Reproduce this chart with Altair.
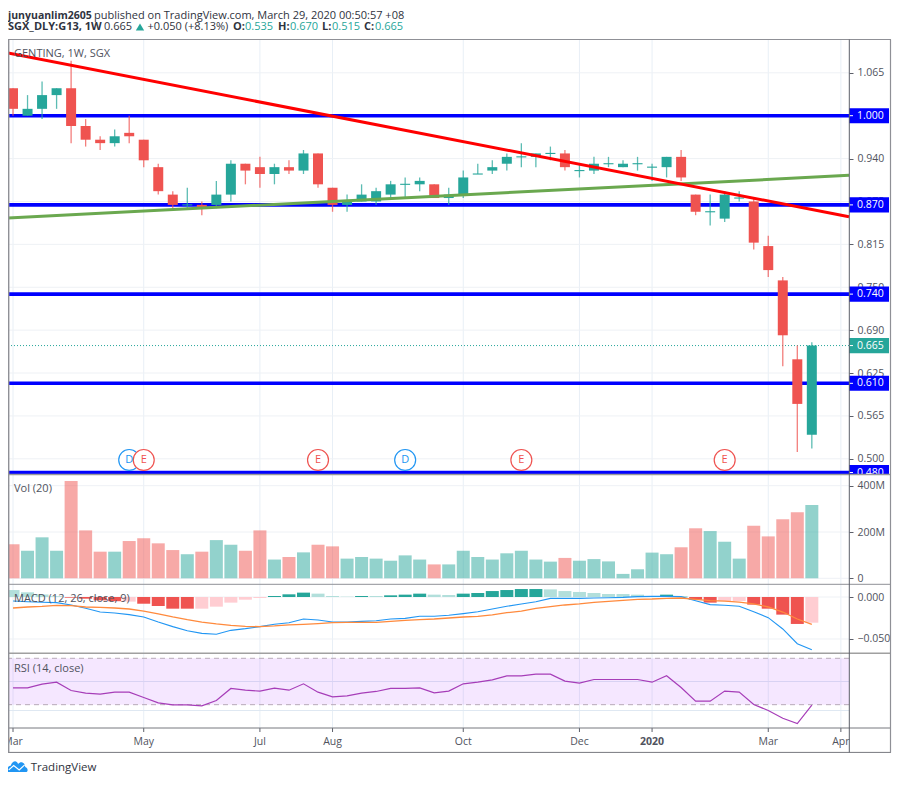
import altair as alt
import pandas as pd

# ---------- data ----------
dates = [d.strftime("%Y-%m-%d") for d in pd.date_range("2019-03-04", periods=56, freq="7D")]

open_ = [1.04,1.00,1.01,1.03,1.04,0.985,0.965,0.96,0.975,0.965,0.925,0.885,0.87,0.87,0.87,0.885,0.93,0.925,0.915,0.925,
         0.92,0.945,0.895,0.87,0.875,0.875,0.885,0.90,0.90,0.90,0.88,0.885,0.915,0.92,0.93,0.94,0.94,0.945,0.945,0.92,
         0.92,0.93,0.925,0.93,0.925,0.925,0.94,0.885,0.86,0.85,0.88,0.875,0.81,0.76,0.645,0.535]
close = [1.01,1.01,1.03,1.04,0.985,0.965,0.96,0.97,0.97,0.935,0.89,0.87,0.87,0.865,0.885,0.93,0.92,0.915,0.925,0.92,
         0.945,0.90,0.87,0.875,0.885,0.89,0.90,0.90,0.905,0.88,0.885,0.91,0.915,0.925,0.94,0.94,0.945,0.945,0.925,0.92,
         0.93,0.93,0.93,0.93,0.925,0.94,0.91,0.86,0.86,0.885,0.88,0.815,0.775,0.68,0.58,0.665]
high = [1.04,1.03,1.05,1.04,1.08,0.995,0.97,0.98,1.00,0.965,0.93,0.89,0.895,0.875,0.905,0.935,0.93,0.94,0.93,0.935,
        0.95,0.945,0.895,0.885,0.90,0.895,0.905,0.91,0.91,0.90,0.895,0.92,0.93,0.935,0.945,0.96,0.945,0.955,0.95,0.93,
        0.94,0.94,0.935,0.94,0.93,0.94,0.95,0.885,0.885,0.89,0.89,0.88,0.825,0.765,0.665,0.67]
low = [1.00,1.00,0.995,1.01,0.96,0.955,0.95,0.955,0.96,0.925,0.885,0.865,0.865,0.855,0.865,0.875,0.90,0.895,0.90,0.915,
       0.915,0.895,0.86,0.86,0.875,0.87,0.88,0.88,0.89,0.88,0.87,0.88,0.915,0.915,0.92,0.925,0.925,0.935,0.92,0.91,
       0.915,0.925,0.925,0.92,0.905,0.91,0.905,0.855,0.84,0.845,0.875,0.805,0.765,0.635,0.51,0.515]

volume = [147,119,177,119,420,207,115,115,161,173,151,122,104,115,165,145,119,207,81,92,
          112,145,138,85,92,85,76,99,81,60,60,119,92,81,108,119,81,72,88,76,
          83,73,19,39,111,104,134,216,204,158,85,227,181,255,285,317]

hist = [.0083,.0056,.0030,.0010,-.0008,-.0020,-.0040,-.0050,-.0055,-.0080,-.0107,-.0139,-.0139,-.0139,-.0115,-.0067,-.0032,-.0012,.0012,.0032,
        .0052,.0040,.0012,.0004,.0012,.0012,.0020,.0028,.0040,.0028,.0024,.0040,.0048,.0071,.0083,.0095,.0095,.0091,.0071,.0060,
        .0048,.0036,.0036,.0028,.0012,.0028,.0012,-.0032,-.0067,-.0048,-.0048,-.0091,-.0139,-.0210,-.0321,-.0306]
hist_kind = ["uw","uw","uw","uw","ds","ds","ds","ds","dw","ds","ds","ds","ds","dw","dw","dw","dw","dw","us","us",
             "us","uw","uw","uw","us","uw","us","us","us","uw","uw","us","us","us","us","us","us","uw","uw","uw",
             "uw","uw","uw","uw","uw","us","uw","ds","ds","dw","dw","ds","ds","ds","ds","dw"]
macd = [-.0048,-.0056,-.0063,-.0067,-.0095,-.0135,-.0179,-.0190,-.0210,-.0238,-.0298,-.0353,-.0401,-.0433,-.0444,-.0397,-.0377,-.0353,-.0325,-.0306,
        -.0262,-.0274,-.0298,-.0298,-.0290,-.0282,-.0262,-.0254,-.0230,-.0230,-.0218,-.0198,-.0175,-.0143,-.0111,-.0083,-.0056,-.0016,-.0016,-.0016,
        -.0012,-.0008,-.0004,.0004,.0008,.0008,.0004,-.0044,-.0091,-.0099,-.0111,-.0175,-.0246,-.0381,-.0556,-.0627]
signal = [-.0131,-.0119,-.0111,-.0099,-.0103,-.0119,-.0123,-.0131,-.0143,-.0167,-.0202,-.0238,-.0270,-.0298,-.0321,-.0337,-.0349,-.0353,-.0345,-.0333,
          -.0325,-.0317,-.0306,-.0302,-.0302,-.0302,-.0290,-.0278,-.0270,-.0262,-.0250,-.0238,-.0230,-.0214,-.0187,-.0167,-.0135,-.0115,-.0095,-.0083,
          -.0063,-.0052,-.0040,-.0028,-.0024,-.0016,-.0012,-.0028,-.0044,-.0048,-.0060,-.0083,-.0119,-.0179,-.0262,-.0325]
rsi = [44.5,44.5,47.7,49.4,42.2,39.9,39.1,40.8,40.8,36.2,31.6,29.9,29.9,29.0,33.6,44.0,42.5,41.7,44.2,42.5,
       48.0,40.8,36.8,37.6,39.9,41.4,44.0,44.0,44.5,40.2,41.7,48.0,49.4,51.4,54.9,54.9,56.3,56.3,50.3,48.6,
       51.7,51.7,51.7,51.7,49.4,54.9,44.8,33.0,33.0,41.7,40.8,30.1,25.0,18.3,13.7,29.6]

levels = [1.00, 0.87, 0.74, 0.61, 0.48]
last_price = 0.665
price_ticks = [1.0625, 1.0, 0.9375, 0.875, 0.8125, 0.75, 0.6875, 0.625, 0.5625, 0.5]
vol_ticks = [0, 200, 400]
macd_ticks = [0, -0.05]
rsi_grid = [50, 25]
rsi_bands = [70, 30]
month_ticks = ["2019-03-04","2019-05-06","2019-07-01","2019-08-05","2019-10-07","2019-12-02","2020-01-06","2020-03-02","2020-04-06"]
month_labels = ["Mar","May","Jul","Aug","Oct","Dec","2020","Mar","Apr"]
events = ["2019-04-29","2019-05-06","2019-07-29","2019-09-09","2019-11-04","2020-02-10"]
event_kind = ["D","E","E","D","E","E"]
x_start, x_end = "2019-03-01T14:00:00Z", "2020-04-09T22:00:00Z"
red_line = [1.0914, 0.8528]
green_line = [0.851, 0.9131]

# ---------- styles ----------
TEAL, RED, BLUE = "#26a69a", "#ef5350", "#0000ff"
FONT = "Open Sans"
INK = "#50535e"
W, H = 841, 720
FRAME = "#8f9096"
AXF = 10.5
RIGHT_EDGE = 883

df = pd.DataFrame(dict(date=dates, open=open_, close=close, high=high, low=low, volume=volume,
                       hist=hist, kind=hist_kind, macd=macd, signal=signal, rsi=rsi))
df["dir"] = ["up" if c >= o else "down" for o, c in zip(open_, close)]

xscale = alt.Scale(type="utc", domain=[x_start, x_end], padding=0)


def X():
    return alt.X("date:T", scale=xscale, axis=None, title=None)


def panel_y(domain, rng):
    def make(field, axis=None):
        return alt.Y(f"{field}:Q", scale=alt.Scale(domain=domain, range=rng, nice=False, zero=False),
                     axis=axis, title=None)
    return make


Yp = panel_y([0.4764, 1.1103], [467, 32])
Yv = panel_y([-24.6, 446.2], [576, 467])
Ym = panel_y([-0.0673, 0.0143], [645.5, 577])
Yr = panel_y([9.9, 73.7], [720, 646])

dir_color = alt.Color("dir:N", scale=alt.Scale(domain=["up", "down"], range=[TEAL, RED]), legend=None)
axis_common = dict(orient="right", domain=False, tickColor="#5c5f6a", tickSize=4, labelPadding=4,
                   labelFont=FONT, labelFontSize=AXF, labelColor=INK, labelOverlap=False, grid=False)

price_axis = alt.Axis(values=price_ticks, labelExpr="format(ceil(datum.value*200)/200,'.3f')", **axis_common)
vol_axis = alt.Axis(values=vol_ticks, labelExpr="datum.value==0 ? '0' : datum.value+'M'", **axis_common)
macd_axis = alt.Axis(values=macd_ticks, format=".3f", **axis_common)


def label(text, x, y, size=11, color=INK, weight="normal", align="left", font=FONT):
    return alt.Chart(pd.DataFrame({"t": [text]})).mark_text(
        font=font, fontSize=size, color=color, fontWeight=weight, align=align, baseline="middle"
    ).encode(x=alt.value(x), y=alt.value(y), text="t:N")


def hrule(y, x1=0, x2=RIGHT_EDGE, color=FRAME, width=1.0):
    return alt.Chart(pd.DataFrame({"a": [0]})).mark_rule(color=color, strokeWidth=width).encode(
        x=alt.value(x1), x2=alt.value(x2), y=alt.value(y))


def vrule(x, y1, y2, color=FRAME, width=1.0):
    return alt.Chart(pd.DataFrame({"a": [0]})).mark_rule(color=color, strokeWidth=width).encode(
        x=alt.value(x), y=alt.value(y1), y2=alt.value(y2))


GRID = "#eef1f5"
layers = []

# horizontal and vertical grid
layers.append(alt.Chart(pd.DataFrame({"date": month_ticks})).mark_rule(color="#e8eff6", strokeWidth=1).encode(
    x=X(), y=alt.value(32), y2=alt.value(720)))
layers.append(alt.Chart(pd.DataFrame({"v": price_ticks})).mark_rule(color=GRID, strokeWidth=1).encode(y=Yp("v")))
layers.append(alt.Chart(pd.DataFrame({"v": vol_ticks})).mark_rule(color=GRID, strokeWidth=1).encode(y=Yv("v")))
layers.append(alt.Chart(pd.DataFrame({"v": macd_ticks})).mark_rule(color=GRID, strokeWidth=1).encode(y=Ym("v")))
layers.append(alt.Chart(pd.DataFrame({"v": rsi_grid})).mark_rule(color="#dfe8f2", strokeWidth=1).encode(y=Yr("v")))

# RSI band and guides
band = pd.DataFrame({"top": [rsi_bands[0]], "bot": [rsi_bands[1]]})
layers.append(alt.Chart(band).mark_rect(color="#9915ff", opacity=0.1).encode(
    x=alt.value(0), x2=alt.value(841), y=Yr("top"), y2=alt.Y2("bot:Q")))
layers.append(alt.Chart(pd.DataFrame({"v": rsi_bands})).mark_rule(color="#b7aab8", strokeDash=[5, 4], strokeWidth=1).encode(
    y=Yr("v")))

# support / resistance levels
layers.append(alt.Chart(pd.DataFrame({"p": levels})).mark_rule(color=BLUE, strokeWidth=3.6).encode(y=Yp("p")))
layers.append(alt.Chart(pd.DataFrame({"p": [last_price]})).mark_rule(color=TEAL, strokeDash=[1, 2], strokeWidth=1).encode(y=Yp("p")))

# candles
layers.append(alt.Chart(df).mark_rule(strokeWidth=1.3, opacity=0.75).encode(
    x=X(), y=Yp("low", price_axis), y2=alt.Y2("high:Q"), color=dir_color))
layers.append(alt.Chart(df).transform_calculate(
    b1="datum.open==datum.close ? datum.open-0.0008 : datum.open",
    b2="datum.open==datum.close ? datum.close+0.0008 : datum.close",
).mark_bar(size=10).encode(x=X(), y=Yp("b1"), y2=alt.Y2("b2:Q"), color=dir_color))

# trend lines
line_df = pd.DataFrame({"date": [x_start, x_end], "red": red_line, "green": green_line})
layers.append(alt.Chart(line_df).mark_line(color="#6aa84f", strokeWidth=3).encode(x=X(), y=Yp("green")))
layers.append(alt.Chart(line_df).mark_line(color="#ff0000", strokeWidth=3).encode(x=X(), y=Yp("red")))

# events
ev = pd.DataFrame({"date": events, "k": event_kind, "p": [0.4983] * 6})
ev_color = alt.Color("k:N", scale=alt.Scale(domain=["D", "E"], range=["#2196f3", "#ef5350"]), legend=None)
layers.append(alt.Chart(ev).mark_point(filled=True, fill="white", size=440, strokeWidth=1.2, shape="circle", opacity=1).encode(
    x=X(), y=Yp("p"), stroke=ev_color))
layers.append(alt.Chart(ev).mark_text(font=FONT, fontSize=11, baseline="middle", align="center").encode(
    x=X(), y=Yp("p"), text="k:N", color=ev_color))

# volume
layers.append(alt.Chart(df).mark_bar(size=13, opacity=0.5).encode(
    x=X(), y=Yv("volume", vol_axis), color=dir_color))

# MACD
kind_color = alt.Color("kind:N", scale=alt.Scale(domain=["us", "uw", "ds", "dw"],
                       range=[TEAL, "#b2dfdb", RED, "#ffcdd2"]), legend=None)
layers.append(alt.Chart(df).mark_bar(size=13).encode(x=X(), y=Ym("hist", macd_axis), color=kind_color))
layers.append(alt.Chart(df).mark_line(color="#2196f3", strokeWidth=1.1).encode(x=X(), y=Ym("macd")))
layers.append(alt.Chart(df).mark_line(color="#ff8a3d", strokeWidth=1.3).encode(x=X(), y=Ym("signal")))

# RSI
layers.append(alt.Chart(df).mark_line(color="#a63db8", strokeWidth=1.2).encode(x=X(), y=Yr("rsi")))

# scale boxes
box = pd.DataFrame({"p": levels})
box["t"] = [p + 0.011 for p in levels]
box["b"] = [max(p - 0.011, 0.4764) for p in levels]
box["s"] = [f"{p:.3f}" for p in levels]
layers.append(alt.Chart(box).mark_rect(color=BLUE).encode(
    x=alt.value(841), x2=alt.value(881), y=Yp("t"), y2=alt.Y2("b:Q")))
layers.append(alt.Chart(box).mark_rule(color="white", strokeWidth=1).encode(
    x=alt.value(841), x2=alt.value(845), y=Yp("p")))
layers.append(alt.Chart(box).mark_text(font=FONT, fontSize=AXF, color="white", align="left", baseline="middle").encode(
    x=alt.value(849), y=Yp("p"), text="s:N"))
last = pd.DataFrame({"p": [last_price], "t": [last_price + 0.011], "b": [last_price - 0.011], "s": [f"{last_price:.3f}"]})
layers.append(alt.Chart(last).mark_rect(color=TEAL).encode(
    x=alt.value(841), x2=alt.value(881), y=Yp("t"), y2=alt.Y2("b:Q")))
layers.append(alt.Chart(last).mark_rule(color="white", strokeWidth=1).encode(
    x=alt.value(841), x2=alt.value(845), y=Yp("p")))
layers.append(alt.Chart(last).mark_text(font=FONT, fontSize=AXF, color="white", align="left", baseline="middle").encode(
    x=alt.value(849), y=Yp("p"), text="s:N"))

# month ticks and labels
months = pd.DataFrame({"date": month_ticks, "s": month_labels})
layers.append(alt.Chart(months).mark_rule(color="#5c5f6a", strokeWidth=1).encode(
    x=X(), y=alt.value(720), y2=alt.value(724)))
layers.append(alt.Chart(months[months.s != "2020"]).mark_text(
    font=FONT, fontSize=AXF, color=INK, align="center", baseline="middle").encode(
    x=X(), y=alt.value(734), text="s:N"))
layers.append(alt.Chart(months[months.s == "2020"]).mark_text(
    font=FONT, fontSize=AXF, color=INK, fontWeight="bold", align="center", baseline="middle").encode(
    x=X(), y=alt.value(734), text="s:N"))

# frame
layers += [
    hrule(31.5, color="#8f9096", width=1.2),
    hrule(466.5, color="#9a9a9a", width=1.6),
    hrule(576.3, color="#8f9096", width=1),
    hrule(645.3, color="#a0a0a0", width=1.6),
    hrule(720, color="#77787f", width=1),
    hrule(744.4, color="#77787f", width=1),
    vrule(0.7, 31.5, 744.4, color="#8f9096", width=1.4),
    vrule(841.3, 31.5, 744.4, color="#5c5f6a", width=1),
    vrule(RIGHT_EDGE - 0.5, 31.5, 744.4, color="#8f9096", width=1.2),
]

# pane titles
layers += [
    label("GENTING, 1W, SGX", 6, 46),
    label("Vol (20)", 6, 481),
    label("MACD (12, 26, close, 9)", 6, 591),
    label("RSI (14, close)", 6, 661),
]

# header
H1, H2 = 8, 19
DARK = "#2f3340"
layers += [
    label("junyuanlim2605", 0, H1, size=10.5, color=DARK, weight="bold"),
    label("published on TradingView.com, March 29, 2020 00:50:57 +08", 86, H1, color=DARK),
    label("SGX_DLY:G13, 1W", 0, H2, color=DARK, weight="bold"),
    label("0.665", 96, H2, color=DARK),
    label("+0.050 (+8.13%)", 139.5, H2, color=DARK),
    label("O:", 225, H2, color=DARK, weight="bold"),
    label("0.535", 237, H2, color=TEAL),
    label("H:", 270, H2, color=DARK, weight="bold"),
    label("0.670", 282, H2, color=TEAL),
    label("L:", 314, H2, color=DARK, weight="bold"),
    label("0.515", 324, H2, color=TEAL),
    label("C:", 356, H2, color=DARK, weight="bold"),
    label("0.665", 367, H2, color=TEAL),
    alt.Chart(pd.DataFrame({"a": [0]})).mark_point(shape="triangle-up", filled=True, color=TEAL, size=70, opacity=1).encode(
        x=alt.value(132), y=alt.value(H2)),
]

# footer logo
layers += [
    alt.Chart(pd.DataFrame({"a": [0]})).mark_point(
        shape="M-1,0.55 C-1,0.2 -0.8,0 -0.55,-0.05 C-0.45,-0.5 0,-0.6 0.1,-0.15 C0.3,-0.5 0.75,-0.3 0.75,0.1 C1,0.15 1.05,0.55 0.8,0.55 Z",
        filled=True, color="#2196f3", size=484, opacity=1).encode(x=alt.value(9), y=alt.value(758)),
    alt.Chart(pd.DataFrame({"a": [0]})).mark_point(
        shape="M-0.75,0.35 L-0.3,-0.05 L0.2,0.35 L0.7,-0.1",
        filled=False, stroke="white", strokeWidth=1.2, size=484, opacity=1).encode(x=alt.value(9), y=alt.value(758)),
    label("TradingView", 22.7, 760, size=11.5, color="#2f3340"),
]

chart = alt.layer(*layers).resolve_scale(
    y="independent", color="independent", stroke="independent"
).resolve_axis(y="independent").properties(
    width=W, height=H,
    autosize=alt.AutoSizeParams(type="none"),
    padding={"left": 0, "top": 0, "right": 43, "bottom": 46},
    background="white",
).configure_view(stroke=None)

chart.save("out.html", embed_options={"renderer": "svg", "actions": False})
